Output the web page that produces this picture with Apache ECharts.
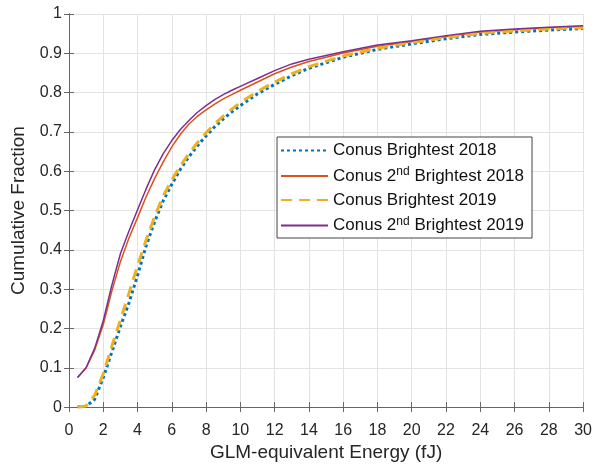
<!DOCTYPE html>
<html>
<head>
<meta charset="utf-8">
<script src="https://cdn.jsdelivr.net/npm/echarts@6/dist/echarts.min.js"></script>
<style>
  html, body { margin: 0; padding: 0; background: #fff; }
  #chart { width: 595px; height: 467px; }
</style>
</head>
<body>
<div id="chart"></div>
<script>
// Energy sample points (fJ)
const energy = [0.5, 1, 1.5, 2, 2.5, 3, 3.5, 4, 4.5, 5, 5.5, 6, 6.5, 7, 7.5, 8, 8.5, 9, 9.5, 10, 11, 12, 13, 14, 16, 18, 20, 22, 24, 26, 28, 30];

// Cumulative fractions per series
const brightest2018 = [0.0, 0.002, 0.02, 0.075, 0.14, 0.205, 0.265, 0.335, 0.41, 0.472, 0.525, 0.567, 0.605, 0.637, 0.665, 0.69, 0.713, 0.733, 0.751, 0.767, 0.797, 0.821, 0.843, 0.862, 0.89, 0.91, 0.924, 0.937, 0.948, 0.954, 0.959, 0.963];
const second2018    = [0.075, 0.10, 0.145, 0.21, 0.295, 0.37, 0.43, 0.482, 0.535, 0.582, 0.624, 0.662, 0.694, 0.72, 0.74, 0.756, 0.771, 0.784, 0.795, 0.806, 0.827, 0.848, 0.865, 0.879, 0.901, 0.918, 0.930, 0.943, 0.954, 0.96, 0.965, 0.968];
const brightest2019 = [0.0, 0.003, 0.03, 0.085, 0.155, 0.222, 0.29, 0.36, 0.425, 0.485, 0.537, 0.578, 0.614, 0.645, 0.673, 0.698, 0.72, 0.74, 0.758, 0.775, 0.803, 0.827, 0.848, 0.866, 0.893, 0.913, 0.927, 0.940, 0.951, 0.957, 0.962, 0.965];
const second2019    = [0.075, 0.10, 0.15, 0.22, 0.31, 0.39, 0.448, 0.502, 0.555, 0.604, 0.645, 0.678, 0.706, 0.729, 0.75, 0.767, 0.782, 0.795, 0.806, 0.816, 0.836, 0.856, 0.873, 0.885, 0.904, 0.921, 0.932, 0.945, 0.956, 0.962, 0.966, 0.970];

const seriesNames = [
  'Conus Brightest 2018',
  'Conus 2nd Brightest 2018',
  'Conus Brightest 2019',
  'Conus 2nd Brightest 2019'
];

const FONT = 'Liberation Sans, Arial, Helvetica, sans-serif';
const AXIS_COLOR = '#262626';
const GRID_COLOR = '#e3e3e3';

function pairs(ys) { return energy.map((x, i) => [x, ys[i]]); }

const chart = echarts.init(document.getElementById('chart'), null, { renderer: 'canvas' });

const baseAxisLine = { show: true, lineStyle: { color: '#666', width: 1 } };
const tickInside = { show: true, inside: true, length: 5, lineStyle: { color: '#666' } };

chart.setOption({
  animation: false,
  backgroundColor: '#fff',
  grid: { left: 69, top: 14, right: 11, bottom: 59, containLabel: false },
  xAxis: [{
    type: 'value', min: 0, max: 30, interval: 2,
    position: 'bottom',
    name: 'GLM-equivalent Energy (fJ)',
    nameLocation: 'middle', nameGap: 35,
    nameTextStyle: { fontFamily: FONT, fontSize: 19, color: AXIS_COLOR },
    axisLine: baseAxisLine, axisTick: tickInside,
    axisLabel: { fontFamily: FONT, fontSize: 16, color: AXIS_COLOR, margin: 15 },
    splitLine: { show: true, lineStyle: { color: GRID_COLOR, width: 1 } }
  }, {
    type: 'value', min: 0, max: 30, interval: 2, position: 'top',
    axisLine: baseAxisLine, axisTick: tickInside,
    axisLabel: { show: false }, splitLine: { show: false }
  }],
  yAxis: [{
    type: 'value', min: 0, max: 1, interval: 0.1,
    position: 'left',
    name: 'Cumulative Fraction',
    nameLocation: 'middle', nameGap: 41, nameRotate: 90,
    nameTextStyle: { fontFamily: FONT, fontSize: 19, color: AXIS_COLOR },
    axisLine: baseAxisLine, axisTick: tickInside,
    axisLabel: { fontFamily: FONT, fontSize: 16, color: AXIS_COLOR, margin: 7 },
    splitLine: { show: true, lineStyle: { color: GRID_COLOR, width: 1 } }
  }, {
    type: 'value', min: 0, max: 1, interval: 0.1, position: 'right',
    axisLine: baseAxisLine, axisTick: tickInside,
    axisLabel: { show: false }, splitLine: { show: false }
  }],
  legend: {
    orient: 'vertical',
    left: 277, top: 137,
    padding: [5, 8, 4, 3],
    itemGap: 7,
    itemWidth: 47, itemHeight: 18,
    backgroundColor: '#fff',
    borderColor: '#444', borderWidth: 1,
    itemStyle: { opacity: 0 },
    data: seriesNames,
    formatter: function (name) {
      return name.replace('2nd', '2{sup|nd}');
    },
    textStyle: {
      fontFamily: FONT, fontSize: 17, color: '#111',
      rich: {
        sup: { fontFamily: FONT, fontSize: 12, color: '#111', verticalAlign: 'top', padding: [0, 0, 8, 0] }
      }
    }
  },
  series: [{
    name: seriesNames[0], type: 'line', data: pairs(brightest2018),
    symbol: 'none', z: 2,
    lineStyle: { color: '#0072BD', width: 3, type: [3, 3] },
    itemStyle: { color: '#0072BD' }
  }, {
    name: seriesNames[1], type: 'line', data: pairs(second2018),
    symbol: 'none', z: 3,
    lineStyle: { color: '#D95319', width: 1.5 },
    itemStyle: { color: '#D95319' }
  }, {
    name: seriesNames[2], type: 'line', data: pairs(brightest2019),
    symbol: 'none', z: 4,
    lineStyle: { color: '#EDB120', width: 3, type: [11, 7] },
    itemStyle: { color: '#EDB120' }
  }, {
    name: seriesNames[3], type: 'line', data: pairs(second2019),
    symbol: 'none', z: 5,
    lineStyle: { color: '#7E2F8E', width: 1.5 },
    itemStyle: { color: '#7E2F8E' }
  }]
});
</script>
</body>
</html>
